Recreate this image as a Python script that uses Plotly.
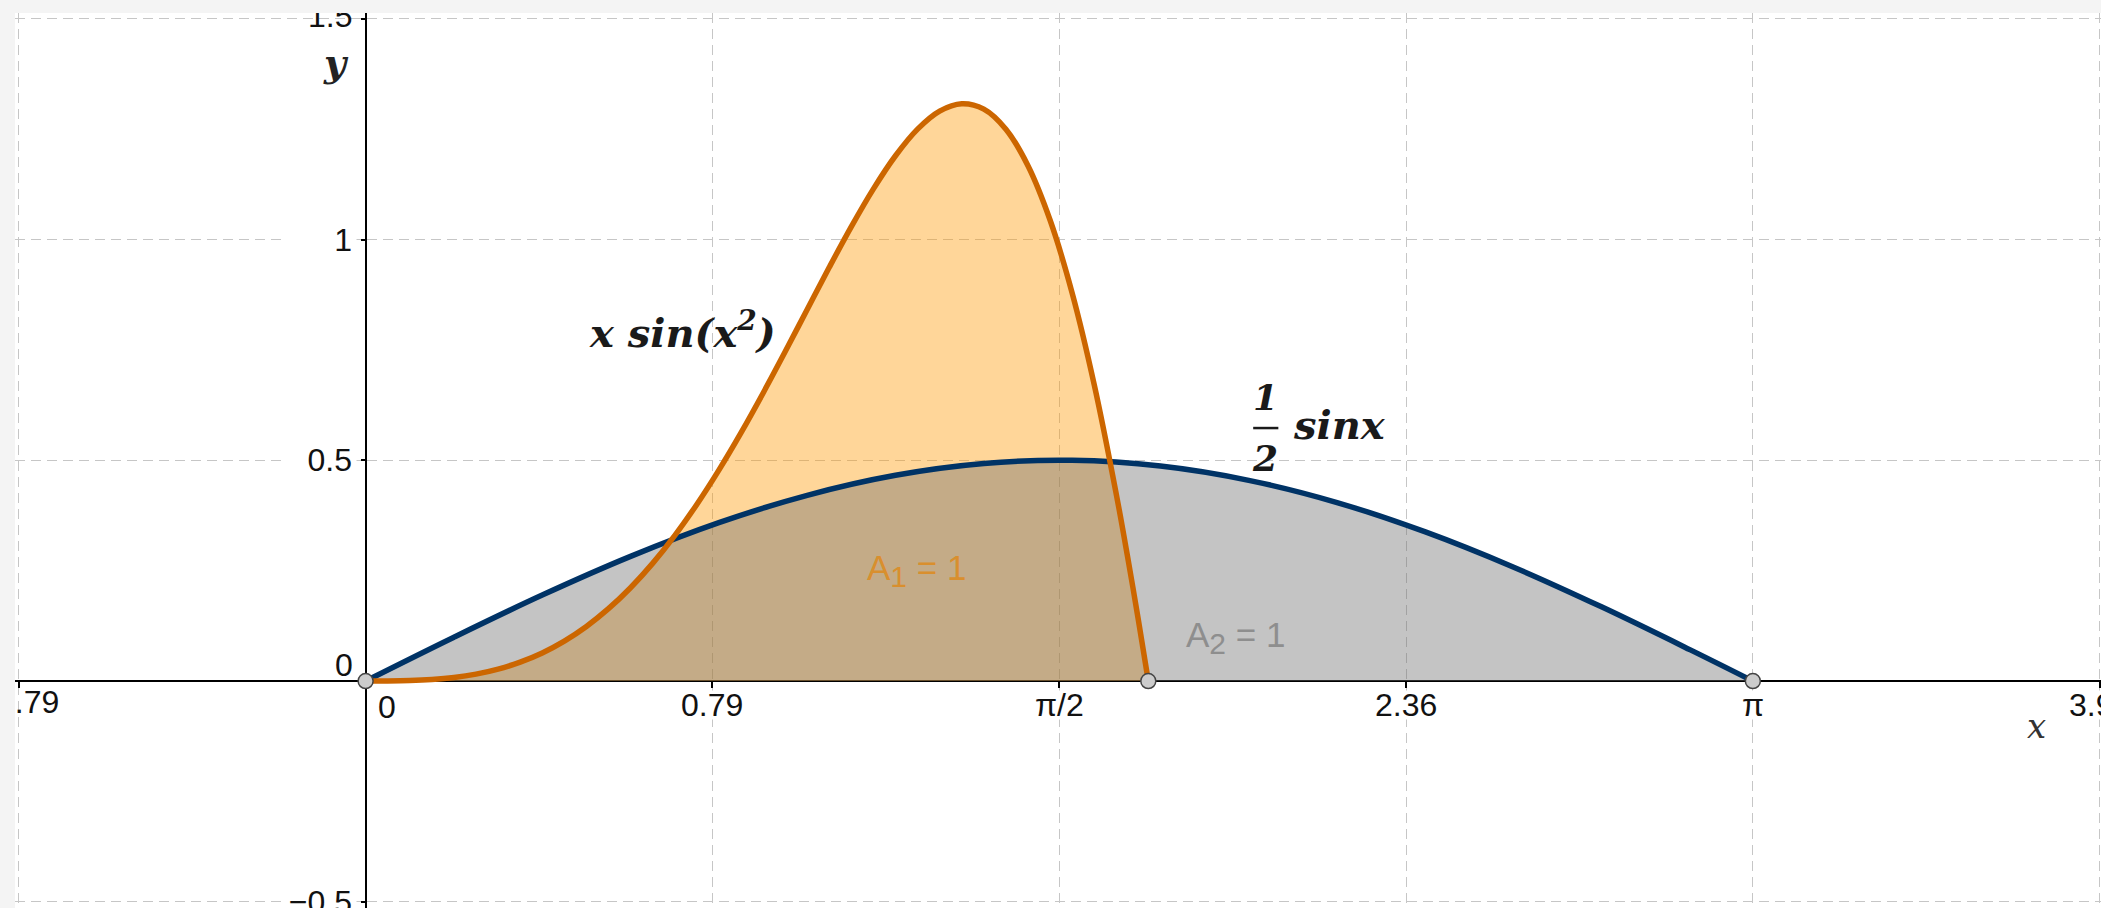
import plotly.graph_objects as go

# values
x_orange = [0, 0.05, 0.10, 0.15, 0.20, 0.25, 0.30, 0.35, 0.40, 0.45, 0.50,
            0.55, 0.60, 0.65, 0.70, 0.75, 0.80, 0.85, 0.90, 0.95, 1.00,
            1.05, 1.10, 1.15, 1.20, 1.25, 1.30, 1.35, 1.40, 1.45, 1.50,
            1.55, 1.60, 1.65, 1.70, 1.725, 1.75, 1.7725]
y_orange = [0, 0.0001, 0.0010, 0.0034, 0.0080, 0.0156, 0.0270, 0.0428, 0.0637, 0.0905, 0.1237,
            0.1639, 0.2114, 0.2665, 0.3294, 0.4000, 0.4778, 0.5621, 0.6519, 0.7456, 0.8415,
            0.9370, 1.0292, 1.1147, 1.1897, 1.2500, 1.2908, 1.3075, 1.2953, 1.2498, 1.1671,
            1.0441, 0.8790, 0.6715, 0.4232, 0.2850, 0.1383, 0]

x_blue = [0, 0.2, 0.4, 0.6, 0.8, 1.0, 1.2, 1.4, 1.6, 1.8, 2.0, 2.2, 2.4, 2.6, 2.8, 3.0, 3.1416]
y_blue = [0, 0.0993, 0.1947, 0.2823, 0.3587, 0.4207, 0.4660, 0.4927, 0.4998, 0.4869,
          0.4546, 0.4043, 0.3377, 0.2578, 0.1675, 0.0706, 0]

x_points = [0, 1.7725, 3.1416]
y_points = [0, 0, 0]

x_tick_vals = [-0.7854, 0, 0.7854, 1.5708, 2.3562, 3.1416, 3.9270]
x_tick_text = ['−0.79', '0', '0.79', 'π/2', '2.36', 'π', '3.93']
y_tick_vals = [-0.5, 0, 0.5, 1, 1.5]
y_tick_text = ['−0.5', '0', '0.5', '1', '1.5']

x_range = [-0.794, 3.930]
y_range = [-0.514, 1.513]

ORANGE = '#cc6600'
BLUE = '#003366'
TICK_FONT = dict(family='Liberation Sans', size=32, color='#111111')
MATH_FONT = dict(family='DejaVu Serif', size=40, color='#1a1a1a')
FRAC_FONT = dict(family='DejaVu Serif', size=36, color='#1a1a1a')

fig = go.Figure()

# areas: orange first, grey laid over it
fig.add_trace(go.Scatter(
    x=x_orange, y=y_orange, mode='lines', fill='tozeroy',
    fillcolor='rgba(255,153,0,0.4)', line=dict(width=0, shape='spline'),
    hoverinfo='skip', showlegend=False))
fig.add_trace(go.Scatter(
    x=x_blue, y=y_blue, mode='lines', fill='tozeroy',
    fillcolor='rgba(107,107,107,0.4)', line=dict(width=0, shape='spline'),
    hoverinfo='skip', showlegend=False))

fig.add_trace(go.Scatter(
    x=x_blue, y=y_blue, mode='lines',
    line=dict(color=BLUE, width=5.5, shape='spline'), showlegend=False))
fig.add_trace(go.Scatter(
    x=x_orange, y=y_orange, mode='lines',
    line=dict(color=ORANGE, width=5.5, shape='spline'), showlegend=False))

fig.add_trace(go.Scatter(
    x=x_points, y=y_points, mode='markers',
    marker=dict(size=15, color='#cccccc', line=dict(color='#444444', width=1.5)),
    cliponaxis=False, showlegend=False))

# labels that are cut by the plot edge
fig.add_trace(go.Scatter(
    x=[x_tick_vals[0]], y=[-0.0544], mode='text', text=[x_tick_text[0]],
    textposition='middle center', textfont=TICK_FONT,
    hoverinfo='skip', showlegend=False))
fig.add_trace(go.Scatter(
    x=[-0.080], y=[y_tick_vals[-1]], mode='text', text=[y_tick_text[-1]],
    textposition='middle center', textfont=TICK_FONT,
    hoverinfo='skip', showlegend=False))

annotations = []

for v, t in zip(x_tick_vals[1:], x_tick_text[1:]):
    if v == 0:
        annotations.append(dict(x=v, y=0, text=t, showarrow=False, font=TICK_FONT,
                                xanchor='left', xshift=10, yshift=-26))
    else:
        annotations.append(dict(x=v, y=0, text=t, showarrow=False, font=TICK_FONT,
                                yshift=-24, bgcolor='white', height=26))

for v, t in zip(y_tick_vals[:-1], y_tick_text[:-1]):
    if v == 0:
        annotations.append(dict(x=0, y=v, text=t, showarrow=False, font=TICK_FONT,
                                xanchor='right', xshift=-11, yshift=16))
    else:
        annotations.append(dict(x=0, y=v, text=t, showarrow=False, font=TICK_FONT,
                                xanchor='right', xshift=-9, width=66, align='right',
                                borderpad=4, bgcolor='white', height=30))

# axis names
annotations.append(dict(x=-0.067, y=1.400, text='<b><i>y</i></b>', showarrow=False,
                        font=dict(family='DejaVu Serif', size=38, color='#222222')))
annotations.append(dict(x=3.785, y=-0.102, text='<i>x</i>', showarrow=False,
                        font=dict(family='DejaVu Serif', size=34, color='#333333')))

# function captions
annotations.append(dict(x=0.717, y=0.795, text='<b><i>x sin(x<sup>2</sup>)</i></b>',
                        showarrow=False, font=MATH_FONT))
annotations.append(dict(x=2.037, y=0.643, text='<b><i>1</i></b>', showarrow=False,
                        font=FRAC_FONT))
annotations.append(dict(x=2.037, y=0.505, text='<b><i>2</i></b>', showarrow=False,
                        font=FRAC_FONT))
annotations.append(dict(x=2.206, y=0.580, text='<b><i>sinx</i></b>', showarrow=False,
                        font=MATH_FONT))

# area captions
annotations.append(dict(x=1.247, y=0.250,
                        text='A<sub><span style="font-size:30px">1</span></sub> = 1',
                        showarrow=False,
                        font=dict(family='Liberation Sans', size=35, color='#d98f2e')))
annotations.append(dict(x=1.969, y=0.098,
                        text='A<sub><span style="font-size:30px">2</span></sub> = 1',
                        showarrow=False,
                        font=dict(family='Liberation Sans', size=35, color='#8e8e8e')))

x_pos = (0 - y_range[0]) / (y_range[1] - y_range[0])
y_pos = (0 - x_range[0]) / (x_range[1] - x_range[0])

fig.update_layout(
    width=2101, height=908,
    margin=dict(l=15, r=0, t=13, b=0, pad=0),
    paper_bgcolor='#f4f4f4',
    plot_bgcolor='white',
    showlegend=False,
    annotations=annotations,
    shapes=[dict(type='line', xref='x', yref='y', x0=2.010, x1=2.067, y0=0.573, y1=0.573,
                 line=dict(color='#1a1a1a', width=2.5))],
    xaxis=dict(
        range=x_range, tickmode='array', tickvals=x_tick_vals, showticklabels=False,
        showgrid=True, gridcolor='#c6c6c6', gridwidth=1, griddash='10px,6px',
        zeroline=False, showline=True, linecolor='black', linewidth=2,
        ticks='outside', ticklen=6, tickwidth=2, tickcolor='black',
        anchor='free', position=x_pos, layer='below traces', fixedrange=True),
    yaxis=dict(
        range=y_range, tickmode='array', tickvals=y_tick_vals, showticklabels=False,
        showgrid=True, gridcolor='#c6c6c6', gridwidth=1, griddash='10px,6px',
        zeroline=False, showline=True, linecolor='black', linewidth=1.5,
        ticks='outside', ticklen=4, tickwidth=2, tickcolor='black',
        anchor='free', position=y_pos, layer='below traces', fixedrange=True),
)

# page body has a default 8px margin; drop it so the figure fills the window
fig.write_html("out.html", config={'displayModeBar': False},
               post_script="document.body.style.margin='0';"
                           "document.body.style.background='#f4f4f4';")
